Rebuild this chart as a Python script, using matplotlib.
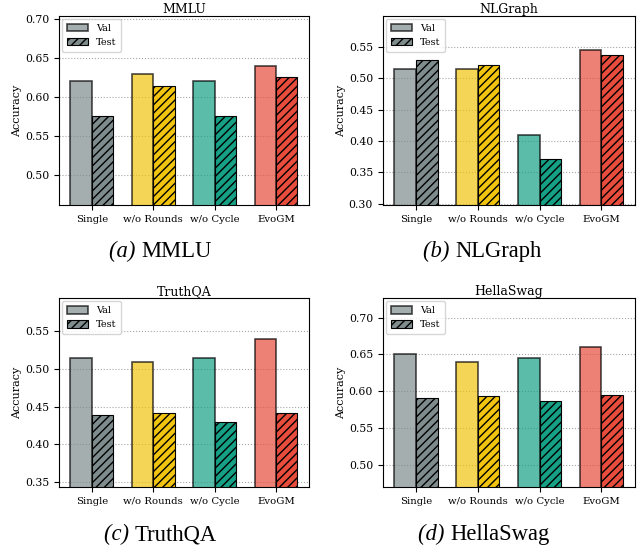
import matplotlib
matplotlib.use("Agg")
import matplotlib.pyplot as plt
import numpy as np

plt.rcParams['font.family'] = 'DejaVu Serif'

methods = ['Single', 'w/o Rounds', 'w/o Cycle', 'EvoGM']
colors = ['#7f8c8d', '#f1c40f', '#16a085', '#e74c3c']

datasets = ['MMLU', 'NLGraph', 'TruthQA', 'HellaSwag']
captions = ['(a)', '(b)', '(c)', '(d)']

mmlu_val = [0.620, 0.630, 0.620, 0.640]
mmlu_test = [0.576, 0.614, 0.576, 0.625]
nlgraph_val = [0.515, 0.515, 0.410, 0.545]
nlgraph_test = [0.529, 0.521, 0.372, 0.537]
truthqa_val = [0.515, 0.510, 0.515, 0.540]
truthqa_test = [0.439, 0.441, 0.429, 0.441]
hellaswag_val = [0.650, 0.640, 0.645, 0.660]
hellaswag_test = [0.590, 0.593, 0.587, 0.594]

vals = [mmlu_val, nlgraph_val, truthqa_val, hellaswag_val]
tests = [mmlu_test, nlgraph_test, truthqa_test, hellaswag_test]

# axes boxes in figure fraction [left, bottom, width, height]
boxes = [[0.0923, 0.627, 0.391, 0.344],
         [0.599, 0.627, 0.394, 0.344],
         [0.0923, 0.1145, 0.391, 0.343],
         [0.599, 0.1145, 0.394, 0.343]]
# split point between "(a) " and the name, and baseline
cap_pos = [(0.2207, 0.533), (0.712, 0.533), (0.211, 0.018), (0.7047, 0.018)]

fig = plt.figure(figsize=(6.39, 5.5), dpi=100)
w = 0.35
x = np.arange(len(methods))

for k in range(4):
    ax = fig.add_axes(boxes[k])
    v = vals[k]
    t = tests[k]
    for i in range(len(methods)):
        ax.bar(x[i] - w/2, v[i], w, color=colors[i], alpha=0.7, edgecolor='black', linewidth=1.2,
               label='Val' if i == 0 else None)
        ax.bar(x[i] + w/2, t[i], w, color=colors[i], edgecolor='black', linewidth=0.8, hatch='////',
               label='Test' if i == 0 else None)
    ax.set_ylim(min(min(v), min(t)) * 0.8, max(max(v), max(t)) * 1.1)
    ax.set_xticks(x)
    ax.set_xticklabels(methods, fontsize=7.3)
    ax.tick_params(axis='y', labelsize=7.8)
    ax.set_ylabel('Accuracy', fontsize=8, labelpad=2)
    ax.set_title(datasets[k], fontsize=9, pad=2)
    ax.yaxis.grid(True, linestyle=':', color='gray', alpha=0.7, linewidth=0.8)
    ax.set_axisbelow(True)
    ax.legend(loc='upper left', fontsize=7, handlelength=2.2, handleheight=0.8,
              borderpad=0.5, borderaxespad=0.3)
    fig.text(cap_pos[k][0], cap_pos[k][1], captions[k] + ' ', fontsize=16.3, family='Liberation Serif',
             style='italic', ha='right', va='baseline')
    fig.text(cap_pos[k][0], cap_pos[k][1], datasets[k], fontsize=16.3, family='Liberation Serif',
             ha='left', va='baseline')

fig.savefig('out.png', dpi=100)
